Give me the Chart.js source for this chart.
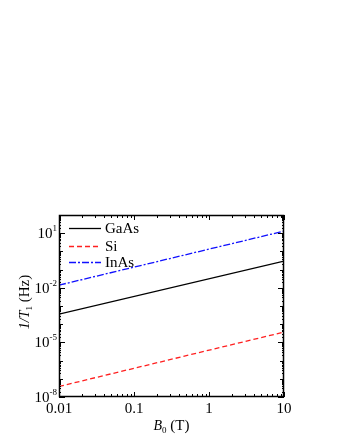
<!DOCTYPE html>
<html>
<head>
<meta charset="utf-8">
<script src="https://cdn.jsdelivr.net/npm/chart.js@4/dist/chart.umd.min.js"></script>
<style>
html,body{margin:0;padding:0;background:#fff;}
#wrap{width:340px;height:440px;position:relative;}
</style>
</head>
<body>
<div id="wrap"><canvas id="c" width="340" height="440"></canvas></div>
<script>
// Data
const fieldB = [0.01, 10];            // B0 (T)
const rateGaAs = [3.6e-4, 0.29];     // 1/T1 (Hz)
const rateSi   = [3.8e-8, 3.7e-5];
const rateInAs = [0.014, 13];
const seriesNames = ['GaAs', 'Si', 'InAs'];
const xTickValues = [0.01, 0.1, 1, 10];
const xTickLabels = ['0.01', '0.1', '1', '10'];
const yTickExponents = [-8, -5, -2, 1];

const SERIF = '"Liberation Serif", "Times New Roman", serif';

const toPts = (xs, ys) => xs.map((x, i) => ({x: x, y: ys[i]}));

const axesPlugin = {
  id: 'axesPlugin',
  afterDatasetsDraw(chart) {
    const ctx = chart.ctx;
    const a = chart.chartArea;
    const xs = chart.scales.x, ys = chart.scales.y;
    ctx.save();
    ctx.strokeStyle = '#000';
    ctx.fillStyle = '#000';
    // frame
    ctx.lineWidth = 1.5;
    ctx.strokeRect(a.left + 0.5, a.top + 0.5, a.right - a.left - 1, a.bottom - a.top - 1);
    ctx.lineWidth = 1;
    // x ticks (inside, top and bottom)
    for (let d = -2; d <= 1; d++) {
      for (let m = 1; m <= 9; m++) {
        const v = m * Math.pow(10, d);
        if (v < xs.min * 0.999 || v > xs.max * 1.001) continue;
        const px = Math.round(xs.getPixelForValue(v)) + 0.5;
        const len = m === 1 ? 5 : 3;
        ctx.beginPath();
        ctx.moveTo(px, a.bottom); ctx.lineTo(px, a.bottom - len);
        ctx.moveTo(px, a.top); ctx.lineTo(px, a.top + len);
        ctx.stroke();
      }
    }
    // y ticks
    for (let d = -8; d <= 2; d++) {
      for (let m = 1; m <= 9; m++) {
        const v = m * Math.pow(10, d);
        if (v < ys.min * 0.999 || v > ys.max * 1.001) continue;
        const py = Math.round(ys.getPixelForValue(v)) + 0.5;
        const len = m === 1 ? (yTickExponents.includes(d) ? 6 : 4) : 2;
        ctx.beginPath();
        ctx.moveTo(a.left, py); ctx.lineTo(a.left + len, py);
        ctx.moveTo(a.right, py); ctx.lineTo(a.right - len, py);
        ctx.stroke();
      }
    }
    // x tick labels
    ctx.font = '15px ' + SERIF;
    ctx.textAlign = 'center';
    ctx.textBaseline = 'top';
    xTickValues.forEach((v, i) => {
      ctx.fillText(xTickLabels[i], xs.getPixelForValue(v), a.bottom + 5);
    });
    // y tick labels with superscripts
    yTickExponents.forEach(e => {
      const py = ys.getPixelForValue(Math.pow(10, e));
      const sup = String(e);
      ctx.font = '9px ' + SERIF;
      const sw = ctx.measureText(sup).width;
      const right = a.left - 2;
      ctx.textAlign = 'left';
      ctx.textBaseline = 'alphabetic';
      ctx.fillText(sup, right - sw, py - 2);
      ctx.font = '15px ' + SERIF;
      ctx.textAlign = 'right';
      ctx.textBaseline = 'middle';
      ctx.fillText('10', right - sw, py + 1);
    });
    // x title: B0 (T)
    const cx = (a.left + a.right) / 2;
    const ty = 430;
    ctx.textBaseline = 'alphabetic';
    ctx.textAlign = 'left';
    const parts = [
      {t: 'B', f: 'italic 14px ' + SERIF, dy: 0},
      {t: '0', f: '9px ' + SERIF, dy: 3},
      {t: ' (T)', f: '15px ' + SERIF, dy: 0}
    ];
    let tw = 0;
    parts.forEach(p => { ctx.font = p.f; p.w = ctx.measureText(p.t).width; tw += p.w; });
    let x0 = cx - tw / 2;
    parts.forEach(p => { ctx.font = p.f; ctx.fillText(p.t, x0, ty + p.dy); x0 += p.w; });
    // y title: 1/T1 (Hz), rotated
    ctx.save();
    ctx.translate(29, (a.top + a.bottom) / 2 - 4);
    ctx.rotate(-Math.PI / 2);
    const yparts = [
      {t: '1/', f: 'italic 14px ' + SERIF, dy: 0},
      {t: 'T', f: 'italic 14px ' + SERIF, dy: 0},
      {t: '1', f: '9px ' + SERIF, dy: 3},
      {t: ' (Hz)', f: '15px ' + SERIF, dy: 0}
    ];
    tw = 0;
    yparts.forEach(p => { ctx.font = p.f; p.w = ctx.measureText(p.t).width; tw += p.w; });
    x0 = -tw / 2;
    yparts.forEach(p => { ctx.font = p.f; ctx.fillText(p.t, x0, p.dy); x0 += p.w; });
    ctx.restore();
    // legend
    const lx0 = a.left + 10, lx1 = a.left + 42, txtX = a.left + 46;
    const rowY = [228, 246, 262];
    chart.data.datasets.forEach((ds, i) => {
      ctx.strokeStyle = ds.borderColor;
      ctx.lineWidth = ds.borderWidth;
      ctx.setLineDash(ds.borderDash || []);
      ctx.beginPath();
      ctx.moveTo(lx0, rowY[i] + 0.5); ctx.lineTo(lx1, rowY[i] + 0.5);
      ctx.stroke();
      ctx.setLineDash([]);
      ctx.font = '15px ' + SERIF;
      ctx.textAlign = 'left';
      ctx.textBaseline = 'middle';
      ctx.fillStyle = '#000';
      ctx.fillText(ds.label, txtX, rowY[i] + 1);
    });
    ctx.restore();
  }
};

new Chart(document.getElementById('c'), {
  type: 'line',
  data: {
    datasets: [
      {label: seriesNames[0], data: toPts(fieldB, rateGaAs), borderColor: '#000000', borderWidth: 1.3, pointRadius: 0, fill: false},
      {label: seriesNames[1], data: toPts(fieldB, rateSi), borderColor: '#ff2020', borderWidth: 1.3, borderDash: [5, 3], pointRadius: 0, fill: false},
      {label: seriesNames[2], data: toPts(fieldB, rateInAs), borderColor: '#1010ff', borderWidth: 1.3, borderDash: [7, 2, 2, 2], pointRadius: 0, fill: false}
    ]
  },
  options: {
    responsive: false,
    animation: false,
    devicePixelRatio: 1,
    layout: {padding: {left: 59, right: 56, top: 215, bottom: 43}},
    plugins: {legend: {display: false}, tooltip: {enabled: false}},
    scales: {
      x: {type: 'logarithmic', min: 0.01, max: 10, display: false},
      y: {type: 'logarithmic', min: 1e-8, max: 1e2, display: false}
    }
  },
  plugins: [axesPlugin]
});
</script>
</body>
</html>
